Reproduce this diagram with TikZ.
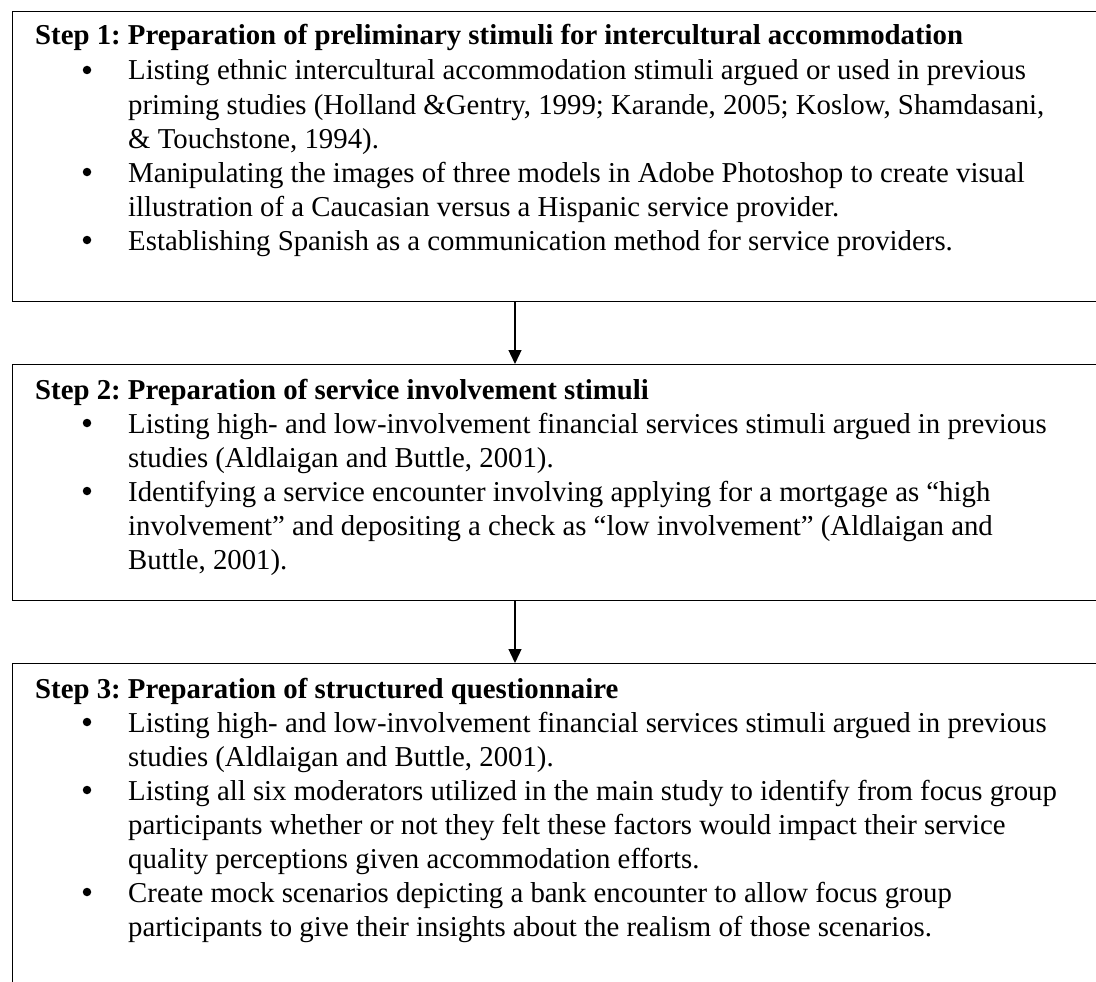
\documentclass[tikz,border=0pt]{standalone}
\usepackage{fontspec}
\setmainfont{Liberation Serif}
\usetikzlibrary{arrows.meta}
\begin{document}
\frenchspacing
\begin{tikzpicture}[x=1pt,y=-1pt,
  stepbox/.style={draw=black, line width=1.4pt, inner sep=0pt, anchor=north west, minimum width=1120pt},
  txt/.style={anchor=base west, inner sep=0pt, font=\fontsize{28.8}{34}\selectfont},
  ttl/.style={txt, font=\fontsize{28.8}{34}\selectfont\bfseries},
  dot/.style={circle, fill=black, inner sep=0pt, minimum size=8.5pt},
  flow/.style={line width=1.3pt, -{Triangle[width=13pt,length=14pt]}}]
\clip (0,0) rectangle (1096,982);
\fill[white] (0,0) rectangle (1096,982);
% boxes
\node[stepbox, minimum height=290pt] (b1) at (12,11) {};
\node[stepbox, minimum height=236pt] (b2) at (12,364) {};
\node[stepbox, minimum height=340pt] (b3) at (12,663) {};
\coordinate (ax) at (515,0);
\draw[flow] (b1.south -| ax) -- (b2.north -| ax);
\draw[flow] (b2.south -| ax) -- (b3.north -| ax);
% box 1
\node[ttl] (t1) at (35,45) {Step 1: Preparation of preliminary stimuli for intercultural accommodation};
\foreach \y in {80,182,250} \node[dot] (b1d\y) at (87,\y-10) {};
\foreach \s [count=\i from 0] in {
  {Listing ethnic intercultural accommodation stimuli argued or used in previous},
  {priming studies (Holland \&Gentry, 1999; Karande, 2005; Koslow, Shamdasani,},
  {\& Touchstone, 1994).},
  {Manipulating the images of three models in Adobe Photoshop to create visual},
  {illustration of a Caucasian versus a Hispanic service provider.},
  {Establishing Spanish as a communication method for service providers.}}
  \node[txt] (b1l\i) at (128,80+34*\i) {\s};
% box 2
\node[ttl] (t2) at (35,399) {Step 2: Preparation of service involvement stimuli};
\foreach \y in {433,501} \node[dot] (b2d\y) at (87,\y-10) {};
\foreach \s [count=\i from 0] in {
  {Listing high- and low-involvement financial services stimuli argued in previous},
  {studies (Aldlaigan and Buttle, 2001).},
  {Identifying a service encounter involving applying for a mortgage as “high},
  {involvement” and depositing a check as “low involvement” (Aldlaigan and},
  {Buttle, 2001).}}
  \node[txt] (b2l\i) at (128,433+34*\i) {\s};
% box 3
\node[ttl] (t3) at (35,698) {Step 3: Preparation of structured questionnaire};
\foreach \y in {732,800,902} \node[dot] (b3d\y) at (87,\y-10) {};
\foreach \s [count=\i from 0] in {
  {Listing high- and low-involvement financial services stimuli argued in previous},
  {studies (Aldlaigan and Buttle, 2001).},
  {Listing all six moderators utilized in the main study to identify from focus group},
  {participants whether or not they felt these factors would impact their service},
  {quality perceptions given accommodation efforts.},
  {Create mock scenarios depicting a bank encounter to allow focus group},
  {participants to give their insights about the realism of those scenarios.}}
  \node[txt] (b3l\i) at (128,732+34*\i) {\s};
\end{tikzpicture}
\end{document}
